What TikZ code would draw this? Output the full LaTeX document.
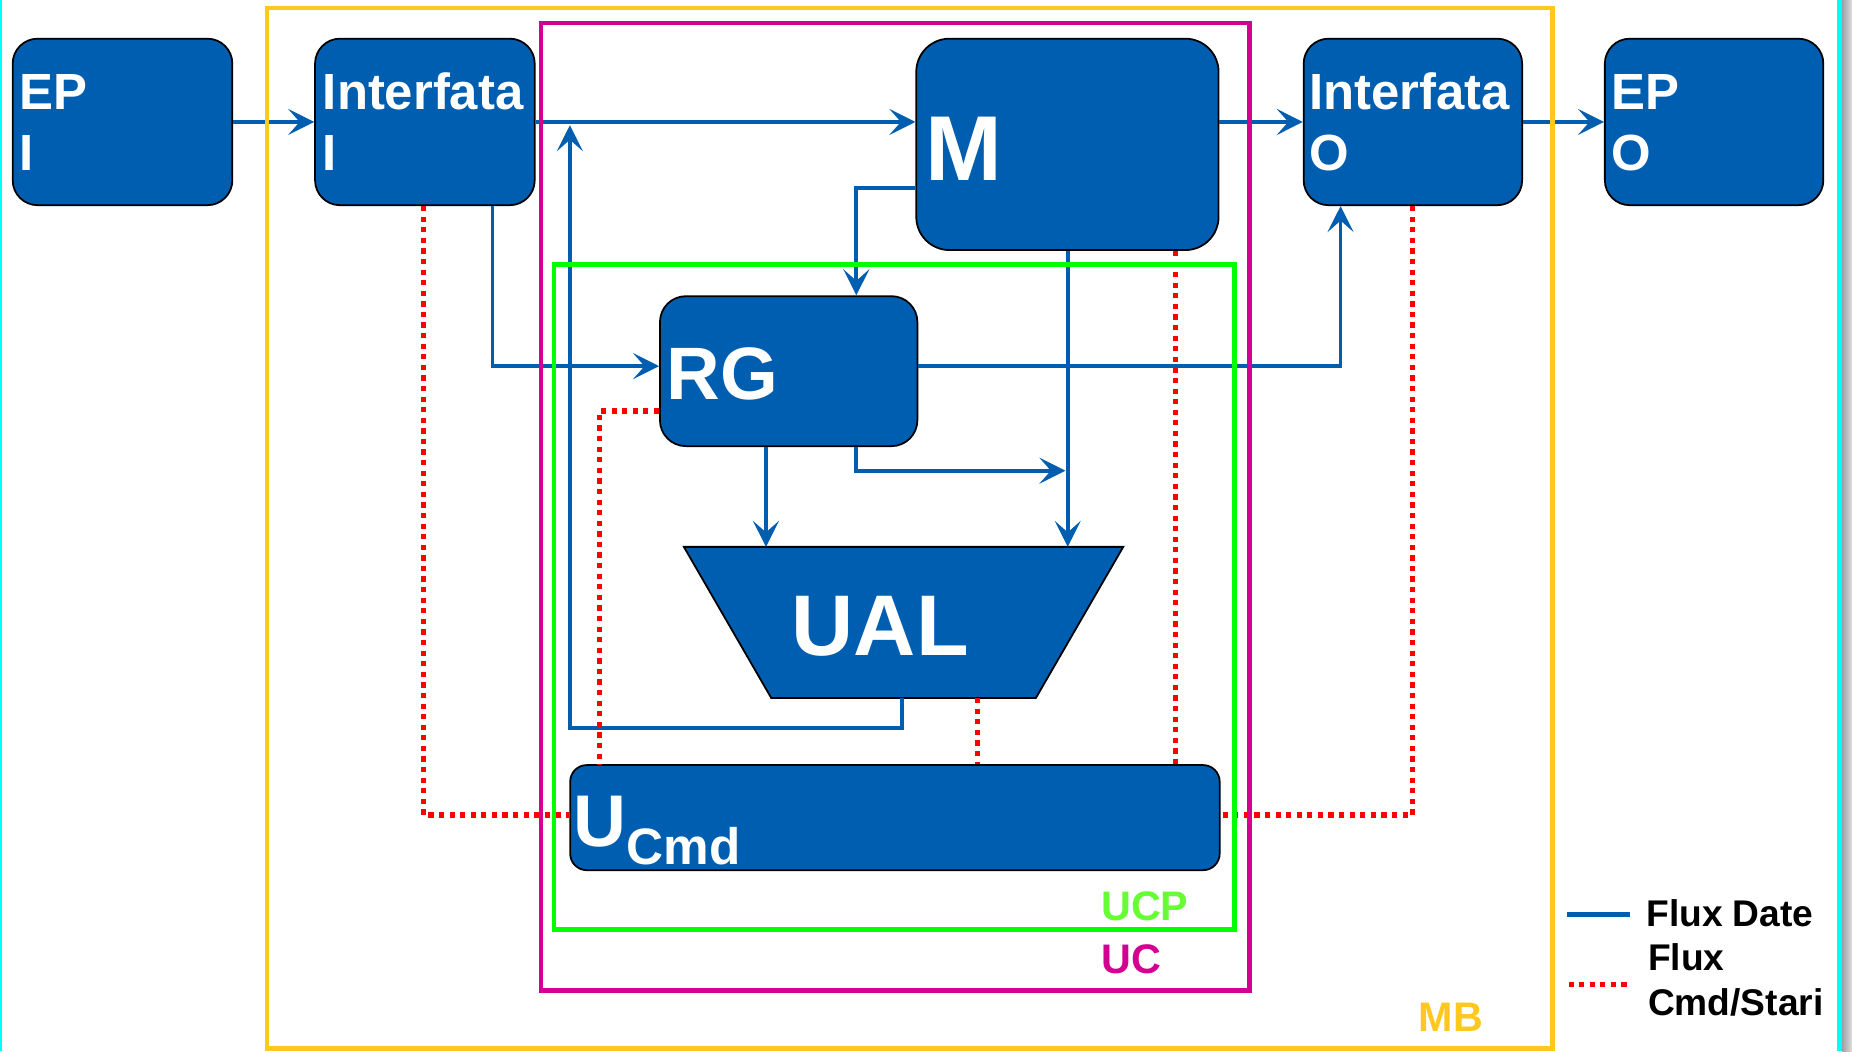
\documentclass[tikz,border=0pt]{standalone}
\usepackage{fontspec}
\setmainfont{Liberation Sans}
\usetikzlibrary{arrows.meta}
\definecolor{boxblue}{RGB}{0,94,176}
\definecolor{mbyellow}{RGB}{255,200,30}
\definecolor{ucmag}{RGB}{212,0,145}
\definecolor{ucpgreen}{RGB}{0,255,0}
\definecolor{ucplabel}{RGB}{102,255,51}
\definecolor{edgecyan}{RGB}{0,255,255}
\begin{document}
\begin{tikzpicture}[x=0.02cm,y=-0.02cm,
  blk/.style={draw=black, line width=0.85pt, fill=boxblue, inner sep=0pt, anchor=north west},
  wt/.style={text=white, inner sep=0pt, anchor=base west},
  flow/.style={draw=boxblue, line width=1.8pt, -{Stealth[length=12.5pt,width=12.5pt,inset=5.5pt]}},
  ctrl/.style={draw=red, line width=2.5pt, dash pattern=on 2.5pt off 2.6pt},
  frame/.style={line width=2.2pt},
  lbl/.style={inner sep=0pt, anchor=base west, font=\bfseries\fontsize{19.9}{24}\selectfont},
  legtext/.style={inner sep=0pt, anchor=base west, text=black, font=\bfseries\fontsize{17.9}{21}\selectfont},
  f24/.style={font=\bfseries\fontsize{24.5}{29}\selectfont}
]
\useasboundingbox (0,0) rectangle (1568,890);
\fill[white] (0,0) rectangle (1568,890);
\fill[edgecyan] (0,0) rectangle (1.7,890);
\fill[edgecyan] (1555,0) rectangle (1559.5,890);
\shade[left color=gray!75, right color=gray!25] (1559.5,0) rectangle (1568,890);

% blocks
\node[blk, rounded corners=12pt, minimum width=3.72cm, minimum height=2.82cm] (epi) at (10,32) {};
\node[blk, rounded corners=12pt, minimum width=3.72cm, minimum height=2.82cm] (ifi) at (266,32) {};
\node[blk, rounded corners=16pt, minimum width=5.12cm, minimum height=3.58cm] (m) at (775,32) {};
\node[blk, rounded corners=12pt, minimum width=3.70cm, minimum height=2.82cm] (ifo) at (1103,32) {};
\node[blk, rounded corners=12pt, minimum width=3.70cm, minimum height=2.82cm] (epo) at (1358,32) {};
\node[blk, rounded corners=12.5pt, minimum width=4.36cm, minimum height=2.54cm] (rg) at (558,250) {};
\node[blk, rounded corners=8pt, minimum width=11cm, minimum height=1.78cm] (ucmd) at (482,647) {};
% UAL trapezoid
\filldraw[fill=boxblue, draw=black, line width=0.85pt] (579,463) -- (951,463) -- (877,591) -- (653,591) -- cycle;
\coordinate (ualtop) at (765,463);
\coordinate (ualbot) at (765,591);

% block texts
\node[wt, f24] (epi1) at (16.5,93) {EP};
\node[wt, f24] (epi2) at (16.5,144) {I};
\node[wt, f24] (ifi1) at (273,93) {Interfata};
\node[wt, f24] (ifi2) at (273,144) {I};
\node[wt, f24] (ifo1) at (1108,93) {Interfata};
\node[wt, f24] (ifo2) at (1108,144) {O};
\node[wt, f24] (epo1) at (1364,93) {EP};
\node[wt, f24] (epo2) at (1364,144) {O};
\node[wt, font=\bfseries\fontsize{44.4}{50}\selectfont] (mt) at (783,153) {M};
\node[wt, font=\bfseries\fontsize{35.8}{42}\selectfont] (rgt) at (564,338) {RG};
\node[wt, font=\bfseries\fontsize{41.5}{48}\selectfont] (ual) at (670,555) {UAL};
\node[wt] (ucmdt) at (485.5,717) {\bfseries\fontsize{35.3}{40}\selectfont U\raisebox{-8.5pt}{\fontsize{24.7}{29}\selectfont Cmd}};

% data flow
\draw[flow] (epi.east) -- (ifi.west);
\draw[flow] (ifi.east) -- (m.west |- ifi.east);
\draw[flow] (m.east |- ifo.west) -- (ifo.west);
\draw[flow] (ifo.east) -- (epo.west);
\draw[flow] (ifi.south -| 417,0) |- (rg.west |- 0,310);
\draw[flow] (m.west |- 0,159) -| (rg.north -| 725,0);
\draw[flow] (rg.east |- 0,310) -| (ifo.south -| 1135,0);
\draw[flow] (m.south -| 904,0) -- (ualtop -| 904,0);
\draw[flow] (rg.south -| 648.5,0) -- (ualtop -| 648.5,0);
\coordinate (j1) at (902,398.5);
\draw[flow] (rg.south -| 724.5,0) |- (j1);
\coordinate (j2) at (482.5,106);
\draw[flow] (ualbot -| 763.5,0) -- (763.5,616.5) -| (j2);

% command / state flow
\draw[ctrl] (ifi.south -| 358.5,0) |- (ucmd.west |- 0,690);
\draw[ctrl] (rg.west |- 0,348) -| (ucmd.north -| 507.5,0);
\draw[ctrl] (ualbot -| 827.5,0) -- (ucmd.north -| 827.5,0);
\draw[ctrl] (m.south -| 995.5,0) -- (ucmd.north -| 995.5,0);
\draw[ctrl] (ifo.south -| 1196,0) |- (ucmd.east |- 0,690);

% frames
\draw[frame, mbyellow] (226,6.7) rectangle (1314.5,887.5);
\draw[frame, ucmag] (458,19.3) rectangle (1058,838.8);
\draw[frame, ucpgreen] (469,224) rectangle (1045,787);
\node[lbl, text=ucplabel] (ucpl) at (932,779.5) {UCP};
\node[lbl, text=ucmag] (ucl) at (932,824) {UC};
\node[lbl, text=mbyellow] (mbl) at (1201,873.5) {MB};

% legend
\coordinate (lb1) at (1327,774.2);
\coordinate (lb2) at (1380,774.2);
\draw[draw=boxblue, line width=2.3pt] (lb1) -- (lb2);
\node[legtext] (lg1) at (1393.5,784.7) {Flux Date};
\coordinate (lr1) at (1328,833.4);
\coordinate (lr2) at (1381,833.4);
\draw[ctrl] (lr1) -- (lr2);
\node[legtext] (lg2) at (1395,821.8) {Flux};
\node[legtext] (lg3) at (1395,859.5) {Cmd/Stari};
\end{tikzpicture}
\end{document}
